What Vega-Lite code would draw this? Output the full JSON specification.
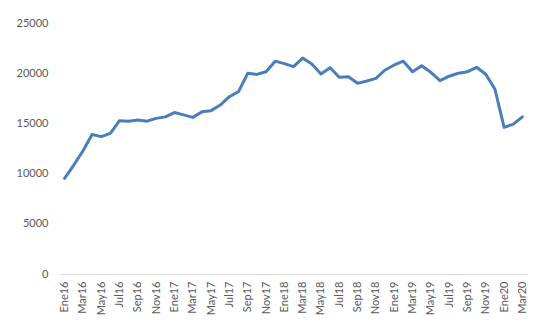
{
  "$schema": "https://vega.github.io/schema/vega-lite/v6.json",
  "autosize": "none",
  "width": 467,
  "height": 251,
  "padding": {"left": 60, "top": 23, "right": 19, "bottom": 54},
  "background": "white",
  "config": {"view": {"stroke": null}, "font": "Lato"},
  "data": {
    "values": [
      {"mes": "Ene16", "valor": 9530},
      {"mes": "Feb16", "valor": 10850},
      {"mes": "Mar16", "valor": 12250},
      {"mes": "Abr16", "valor": 13900},
      {"mes": "May16", "valor": 13680},
      {"mes": "Jun16", "valor": 14000},
      {"mes": "Jul16", "valor": 15270},
      {"mes": "Ago16", "valor": 15210},
      {"mes": "Sep16", "valor": 15340},
      {"mes": "Oct16", "valor": 15220},
      {"mes": "Nov16", "valor": 15500},
      {"mes": "Dic16", "valor": 15650},
      {"mes": "Ene17", "valor": 16080},
      {"mes": "Feb17", "valor": 15850},
      {"mes": "Mar17", "valor": 15600},
      {"mes": "Abr17", "valor": 16150},
      {"mes": "May17", "valor": 16270},
      {"mes": "Jun17", "valor": 16830},
      {"mes": "Jul17", "valor": 17660},
      {"mes": "Ago17", "valor": 18180},
      {"mes": "Sep17", "valor": 19990},
      {"mes": "Oct17", "valor": 19880},
      {"mes": "Nov17", "valor": 20150},
      {"mes": "Dic17", "valor": 21200},
      {"mes": "Ene18", "valor": 20950},
      {"mes": "Feb18", "valor": 20650},
      {"mes": "Mar18", "valor": 21500},
      {"mes": "Abr18", "valor": 20920},
      {"mes": "May18", "valor": 19920},
      {"mes": "Jun18", "valor": 20550},
      {"mes": "Jul18", "valor": 19590},
      {"mes": "Ago18", "valor": 19650},
      {"mes": "Sep18", "valor": 18990},
      {"mes": "Oct18", "valor": 19220},
      {"mes": "Nov18", "valor": 19490},
      {"mes": "Dic18", "valor": 20320},
      {"mes": "Ene19", "valor": 20820},
      {"mes": "Feb19", "valor": 21200},
      {"mes": "Mar19", "valor": 20150},
      {"mes": "Abr19", "valor": 20750},
      {"mes": "May19", "valor": 20090},
      {"mes": "Jun19", "valor": 19260},
      {"mes": "Jul19", "valor": 19700},
      {"mes": "Ago19", "valor": 19990},
      {"mes": "Sep19", "valor": 20150},
      {"mes": "Oct19", "valor": 20590},
      {"mes": "Nov19", "valor": 19890},
      {"mes": "Dic19", "valor": 18400},
      {"mes": "Ene20", "valor": 14610},
      {"mes": "Feb20", "valor": 14920},
      {"mes": "Mar20", "valor": 15650}
    ]
  },
  "mark": {"type": "line", "color": "#4A7EBB", "strokeWidth": 3, "strokeCap": "round", "strokeJoin": "round"},
  "encoding": {
    "x": {
      "field": "mes",
      "type": "ordinal",
      "sort": null,
      "scale": {"type": "point", "padding": 0.5},
      "axis": {
        "title": null,
        "values": ["Ene16", "Mar16", "May16", "Jul16", "Sep16", "Nov16", "Ene17", "Mar17", "May17", "Jul17", "Sep17", "Nov17", "Ene18", "Mar18", "May18", "Jul18", "Sep18", "Nov18", "Ene19", "Mar19", "May19", "Jul19", "Sep19", "Nov19", "Ene20", "Mar20"],
        "labelAngle": 270,
        "ticks": false,
        "domainColor": "#d9d9d9",
        "domainWidth": 1,
        "labelFont": "Lato",
        "labelFontSize": 11,
        "labelColor": "#595959",
        "labelPadding": 7
      }
    },
    "y": {
      "field": "valor",
      "type": "quantitative",
      "scale": {"domain": [0, 25000], "nice": false},
      "axis": {
        "title": null,
        "values": [0, 5000, 10000, 15000, 20000, 25000],
        "format": "d",
        "grid": false,
        "domain": false,
        "ticks": false,
        "labelPadding": 12,
        "labelFont": "Lato",
        "labelFontSize": 11,
        "labelColor": "#595959"
      }
    }
  }
}
